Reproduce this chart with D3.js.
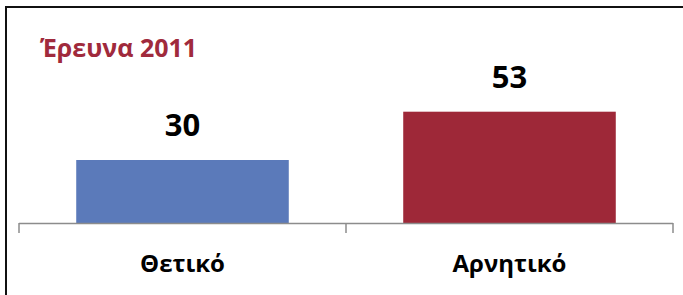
<!DOCTYPE html>
<html>
<head>
<meta charset="utf-8">
<script src="https://cdn.jsdelivr.net/npm/d3@7.9.0/dist/d3.min.js"></script>
<style>
  html, body { margin: 0; padding: 0; background: #fff; }
  svg { display: block; font-family: "Open Sans", "Noto Sans", sans-serif; }
</style>
</head>
<body>
<div id="chart"></div>
<script>
// ---------------------- Data ----------------------
const categories = ['Θετικό', 'Αρνητικό'];
const values = [30, 53];
const barColors = ['#5b7aba', '#9e2838'];
const title = 'Έρευνα 2011';

// ---------------------- Chart ----------------------
const width = 683;
const height = 295;
const plot = { left: 19, right: 673, bottom: 223, top: 97 };

const svg = d3.select('#chart')
  .append('svg')
  .attr('width', width)
  .attr('height', height);

// frame (only top and left edges fall inside the picture)
svg.append('rect')
  .attr('x', 6)
  .attr('y', 7)
  .attr('width', width + 10)
  .attr('height', height + 10)
  .attr('fill', 'none')
  .attr('stroke', '#111')
  .attr('stroke-width', 2);

const xScale = d3.scaleBand()
  .domain(categories)
  .range([plot.left, plot.right])
  .paddingInner(0.35)
  .paddingOuter(0.175);

const yScale = d3.scaleLinear()
  .domain([0, 60])
  .range([plot.bottom, plot.top]);

// bars
svg.append('g')
  .selectAll('rect')
  .data(categories)
  .join('rect')
  .attr('x', d => xScale(d))
  .attr('width', xScale.bandwidth())
  .attr('y', (d, i) => yScale(values[i]))
  .attr('height', (d, i) => yScale(0) - yScale(values[i]))
  .attr('fill', (d, i) => barColors[i]);

// category axis: line with boundary ticks
const step = xScale.step();
const boundaries = d3.range(categories.length + 1).map(i => plot.left + i * step);
const axis = svg.append('g').attr('class', 'x-axis');
axis.append('line')
  .attr('x1', plot.left)
  .attr('x2', plot.right)
  .attr('y1', yScale(0) + 0.5)
  .attr('y2', yScale(0) + 0.5)
  .attr('stroke', '#8c8c8c')
  .attr('stroke-width', 1.5);
axis.selectAll('line.tick')
  .data(boundaries)
  .join('line')
  .attr('class', 'tick')
  .attr('x1', d => d)
  .attr('x2', d => d)
  .attr('y1', yScale(0))
  .attr('y2', yScale(0) + 10)
  .attr('stroke', '#8c8c8c')
  .attr('stroke-width', 1.5);

axis.selectAll('text')
  .data(categories)
  .join('text')
  .attr('x', d => xScale(d) + xScale.bandwidth() / 2)
  .attr('y', 272)
  .attr('text-anchor', 'middle')
  .attr('font-size', 24)
  .attr('font-weight', 'bold')
  .attr('fill', '#000')
  .text(d => d);

// value labels
svg.append('g')
  .selectAll('text')
  .data(categories)
  .join('text')
  .attr('x', d => xScale(d) + xScale.bandwidth() / 2)
  .attr('y', (d, i) => yScale(values[i]) - 24)
  .attr('text-anchor', 'middle')
  .attr('font-size', 31)
  .attr('font-weight', 'bold')
  .attr('fill', '#000')
  .text((d, i) => values[i]);

// title
svg.append('text')
  .attr('x', 40)
  .attr('y', 57)
  .attr('font-size', 25)
  .attr('font-weight', 'bold')
  .attr('fill', '#a02a3c')
  .text(title);
</script>
</body>
</html>
